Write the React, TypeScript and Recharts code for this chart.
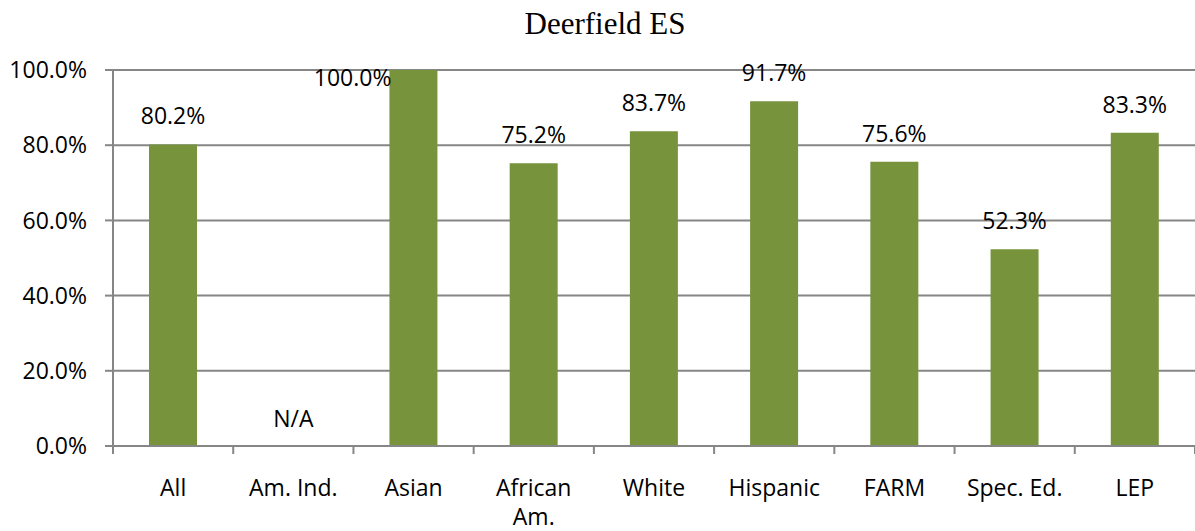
import { BarChart, Bar, XAxis, YAxis, CartesianGrid, LabelList, ReferenceDot } from "recharts";

// Deerfield ES rates by student group
const categories = ["All", "Am. Ind.", "Asian", "African Am.", "White", "Hispanic", "FARM", "Spec. Ed.", "LEP"];
const rates: (number | null)[] = [80.2, null, 100, 75.2, 83.7, 91.7, 75.6, 52.3, 83.3];
const yTicks = [0, 20, 40, 60, 80, 100];
const title = "Deerfield ES";

const data = categories.map((name, i) => ({ name, rate: rates[i] }));

const FONT = "'Open Sans', sans-serif";
const FS = 23;
const GREY = "#868686";
const BAR = "#77933C";
const W = 1195;
const H = 531;
const LEFT = 113;
const band = (W - LEFT) / categories.length;

// splits long category names on two lines like the source
function CategoryTick(props: any) {
  const { x, y, payload, index } = props;
  const label: string = payload.value;
  const lines = label === "African Am." ? ["African", "Am."] : [label];
  const axisY = y - 8;
  return (
    <g>
      <line x1={x - band / 2} x2={x - band / 2} y1={axisY} y2={axisY + 8} stroke={GREY} strokeWidth={2} />
      {index === categories.length - 1 && (
        <line x1={x + band / 2} x2={x + band / 2} y1={axisY} y2={axisY + 8} stroke={GREY} strokeWidth={2} />
      )}
      <text x={x} y={axisY + 50} textAnchor="middle" fontFamily={FONT} fontSize={FS} fill="#000">
        {lines.map((l, i) => (
          <tspan key={i} x={x} dy={i === 0 ? 0 : 29}>
            {l}
          </tspan>
        ))}
      </text>
    </g>
  );
}

function ValueLabel(props: any) {
  const { x, y, width, value } = props;
  if (value == null) return null;
  const text = Number(value).toFixed(1) + "%";
  if (value >= 100) {
    return (
      <text x={x + 2} y={y + 16} textAnchor="end" fontFamily={FONT} fontSize={FS} fill="#000">
        {text}
      </text>
    );
  }
  return (
    <text x={x + width / 2} y={y - 20} textAnchor="middle" fontFamily={FONT} fontSize={FS} fill="#000">
      {text}
    </text>
  );
}

export default function App() {
  return (
    <div style={{ position: "absolute", left: 0, top: 0, width: W, height: H, background: "#fff" }}>
      <div
        style={{
          position: "absolute",
          left: 305,
          top: 7,
          width: 600,
          textAlign: "center",
          fontFamily: "'Liberation Serif', serif",
          fontSize: 31,
          lineHeight: "34px",
          color: "#000",
        }}
      >
        {title}
      </div>
      <BarChart width={W} height={H} data={data} margin={{ top: 70, right: 0, left: 0, bottom: 0 }} barCategoryGap={0}>
        <CartesianGrid vertical={false} stroke={GREY} strokeWidth={2} />
        <XAxis
          dataKey="name"
          height={85}
          tickLine={false}
          tickSize={8}
          tickMargin={0}
          axisLine={{ stroke: GREY, strokeWidth: 2 }}
          tick={<CategoryTick />}
          interval={0}
        />
        <YAxis
          width={LEFT}
          domain={[0, 100]}
          ticks={yTicks}
          tickSize={8}
          tickMargin={18}
          axisLine={{ stroke: GREY, strokeWidth: 2 }}
          tickLine={{ stroke: GREY, strokeWidth: 2 }}
          tickFormatter={(v: number) => v.toFixed(1) + "%"}
          tick={{ fontFamily: FONT, fontSize: FS, fill: "#000" }}
        />
        <Bar dataKey="rate" fill={BAR} barSize={48} isAnimationActive={false}>
          <LabelList dataKey="rate" content={<ValueLabel />} />
        </Bar>
        <ReferenceDot
          x="Am. Ind."
          y={0}
          r={0}
          fill="none"
          stroke="none"
          label={{ value: "N/A", position: "top", offset: 19, fontFamily: FONT, fontSize: FS, fill: "#000" }}
        />
      </BarChart>
    </div>
  );
}
